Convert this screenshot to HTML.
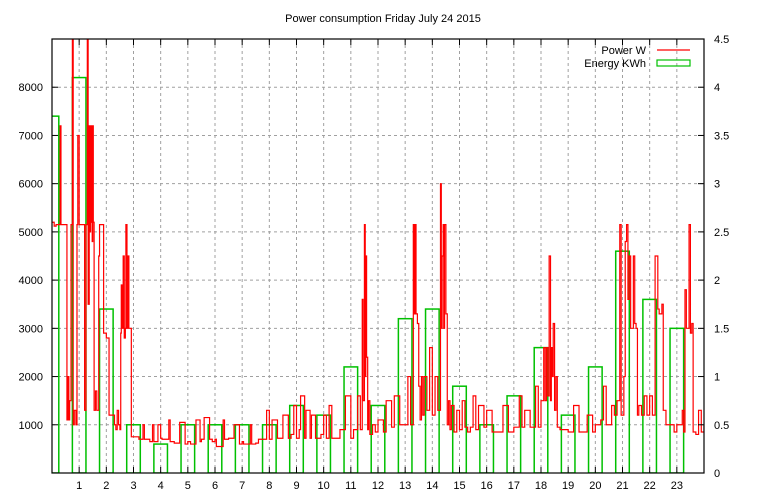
<!DOCTYPE html>
<html><head><meta charset="utf-8"><style>
html,body{margin:0;padding:0;background:#fff;}
svg{display:block;font-family:"Liberation Sans",sans-serif;}
text{font-size:11px;fill:#000;}
</style></head><body>
<svg id="chart" width="768" height="500" viewBox="0 0 768 500" xmlns="http://www.w3.org/2000/svg">
<defs><clipPath id="plotclip"><rect x="52" y="39" width="652" height="434"/></clipPath></defs>
<text x="383" y="22" text-anchor="middle">Power consumption Friday July 24 2015</text>
<g id="grid"></g>
<g id="energy" clip-path="url(#plotclip)"></g>
<g id="power" clip-path="url(#plotclip)"></g>
<g id="axes"></g>
<g>
<text x="646" y="54" text-anchor="end">Power W</text>
<line x1="657" y1="50" x2="690" y2="50" stroke="#ff0000" stroke-width="1.2"/>
<text x="646" y="67" text-anchor="end">Energy KWh</text>
<rect x="657" y="60" width="33" height="6" fill="none" stroke="#00c000" stroke-width="1.2"/>
</g>
</svg>
<script>
const hourTicks = [1,2,3,4,5,6,7,8,9,10,11,12,13,14,15,16,17,18,19,20,21,22,23];
const powerTicks = [1000,2000,3000,4000,5000,6000,7000,8000];
const energyTicks = [0,0.5,1,1.5,2,2.5,3,3.5,4,4.5];
const energyHours = [0,1,2,3,4,5,6,7,8,9,10,11,12,13,14,15,16,17,18,19,20,21,22,23];
const energyKWh = [3.7,4.1,1.7,0.5,0.3,0.5,0.5,0.5,0.5,0.7,0.6,1.1,0.7,1.6,1.7,0.9,0.5,0.8,1.3,0.6,1.1,2.3,1.8,1.5];
const powerData = [
[0,5200],[0.08,5120],[0.15,5150],[0.3,7200],[0.33,5150],[0.55,1100],[0.58,2000],[0.62,1100],[0.65,1500],[0.7,5150],
[0.75,9500],[0.78,1000],[0.82,1300],[0.88,1000],[0.92,5150],[0.95,7000],[1.0,5150],[1.2,1300],[1.25,5150],[1.3,9500],
[1.33,3500],[1.37,7200],[1.4,5000],[1.42,7200],[1.44,5200],[1.46,7200],[1.48,4800],[1.5,7200],[1.52,5200],[1.55,1300],
[1.6,1700],[1.65,1300],[1.72,4500],[1.75,5150],[1.9,2900],[2.0,2800],[2.1,1200],[2.3,1000],[2.35,900],[2.4,1300],
[2.45,1000],[2.5,900],[2.53,2900],[2.55,3900],[2.58,3000],[2.62,4500],[2.66,2800],[2.7,3000],[2.72,5150],[2.76,3000],
[2.8,4500],[2.83,3000],[2.92,750],[3.2,700],[3.35,1000],[3.4,700],[3.6,650],[3.7,1000],[3.75,650],[3.9,1000],
[4.0,720],[4.05,700],[4.3,1100],[4.35,650],[4.5,620],[4.7,1050],[4.9,600],[5.0,650],[5.1,600],[5.3,1100],
[5.45,650],[5.5,700],[5.6,1150],[5.8,700],[5.9,650],[6.0,700],[6.05,550],[6.3,1100],[6.35,700],[6.5,720],
[6.7,1000],[6.9,600],[7.0,650],[7.05,600],[7.3,1000],[7.35,600],[7.5,620],[7.6,700],[7.9,1300],[8.0,700],
[8.1,1100],[8.3,720],[8.5,1200],[8.7,720],[8.8,800],[8.9,1400],[9.0,720],[9.1,900],[9.15,1600],[9.3,720],
[9.35,1300],[9.5,720],[9.55,1200],[9.7,720],[9.9,800],[10.0,1200],[10.1,720],[10.2,1400],[10.3,720],[10.4,720],
[10.6,900],[10.8,1600],[11.0,720],[11.1,900],[11.25,1600],[11.35,900],[11.42,3600],[11.45,1500],[11.5,5150],[11.53,2000],
[11.55,4500],[11.58,2400],[11.62,900],[11.65,1500],[11.7,800],[11.8,1000],[11.9,850],[12.0,1100],[12.2,850],[12.3,1500],
[12.5,950],[12.6,1600],[12.8,1000],[13.0,1000],[13.1,2000],[13.2,1000],[13.3,5150],[13.33,3300],[13.36,5150],[13.4,3300],
[13.45,3100],[13.5,1800],[13.55,1100],[13.6,2000],[13.65,1200],[13.7,2000],[13.8,1300],[13.9,2600],[14.0,1200],[14.1,2000],
[14.2,1300],[14.3,6000],[14.33,3000],[14.36,4500],[14.4,5150],[14.42,3000],[14.45,5150],[14.5,3300],[14.55,1000],[14.6,1500],
[14.65,900],[14.7,1400],[14.8,850],[14.9,1300],[15.0,900],[15.1,1500],[15.2,950],[15.3,850],[15.4,950],[15.5,1600],
[15.6,900],[15.7,1400],[15.9,950],[16.0,1300],[16.2,850],[16.4,850],[16.6,1400],[16.8,850],[17.0,950],[17.2,1600],
[17.3,950],[17.4,1300],[17.6,950],[17.8,1800],[17.9,950],[18.0,1500],[18.1,2600],[18.15,1500],[18.2,2600],[18.25,1600],
[18.3,4500],[18.35,1500],[18.38,2600],[18.42,2000],[18.45,3100],[18.5,1300],[18.55,2000],[18.6,950],[18.7,900],[19.0,850],
[19.2,1400],[19.4,850],[19.5,850],[19.7,1200],[19.9,850],[20.0,1000],[20.2,1100],[20.3,1800],[20.4,1000],[20.6,1400],
[20.7,1200],[20.8,1500],[20.9,5150],[20.95,1200],[21.05,2000],[21.1,4800],[21.15,5150],[21.2,3600],[21.25,4500],[21.3,3000],
[21.4,4500],[21.45,3100],[21.5,3000],[21.55,1200],[21.6,1400],[21.7,1200],[21.8,1600],[21.9,1200],[22.0,1600],[22.1,1200],
[22.2,4500],[22.3,3400],[22.35,3300],[22.45,3500],[22.5,1300],[22.6,1000],[22.7,1000],[22.9,850],[23.0,1000],[23.2,1300],
[23.25,850],[23.3,3800],[23.35,3000],[23.45,5150],[23.5,2900],[23.55,3100],[23.6,850],[23.7,800],[23.8,1300],[23.9,850],[24,1000]
];
const L=52,R=704,T=39,B=473;
function xS(h){return L+(R-L)*h/24;}
function yP(w){return B-(B-T)*w/9000;}
function yE(e){return B-(B-T)*e/4.5;}
const NS='http://www.w3.org/2000/svg';
function mk(tag,attrs,parent){const e=document.createElementNS(NS,tag);for(const k in attrs)e.setAttribute(k,attrs[k]);parent.appendChild(e);return e;}
const grid=document.getElementById('grid'),axes=document.getElementById('axes');
hourTicks.forEach(h=>{
  const g=mk('line',{x1:xS(h),x2:xS(h),y1:T,y2:B,stroke:'#a0a0a0','stroke-dasharray':'3,3','stroke-width':1},grid);
  
  
  const t1=mk('line',{x1:xS(h),x2:xS(h),y1:B,y2:B-6,stroke:'#000'},axes);
  
  
  const t2=mk('line',{x1:xS(h),x2:xS(h),y1:T,y2:T+6,stroke:'#000'},axes);
  
  
  const lb=mk('text',{x:xS(h),y:B+16,'text-anchor':'middle'},axes);
  lb.textContent=h;
  
  
});
powerTicks.forEach(w=>{
  const g=mk('line',{x1:L,x2:R,y1:yP(w),y2:yP(w),stroke:'#a0a0a0','stroke-dasharray':'3,3','stroke-width':1},grid);
  
  
  const t=mk('line',{x1:L,x2:L+6,y1:yP(w),y2:yP(w),stroke:'#000'},axes);
  
  
  const lb=mk('text',{x:L-9,y:yP(w)+4,'text-anchor':'end'},axes);
  lb.textContent=w;
  
  
});
energyTicks.forEach(e=>{
  const t=mk('line',{x1:R-6,x2:R,y1:yE(e),y2:yE(e),stroke:'#000'},axes);
  
  
  const lb=mk('text',{x:R+10,y:yE(e)+4,'text-anchor':'start'},axes);
  lb.textContent=e;
  
  
});
const border=mk('rect',{x:L,y:T,width:R-L,height:B-T,fill:'none',stroke:'#000','stroke-width':1.2},axes);


const eg=document.getElementById('energy');
energyHours.forEach((h,i)=>{
  const x0=xS(h-0.25),x1=xS(h+0.25);
  const r=mk('rect',{x:x0,y:yE(energyKWh[i]),width:x1-x0,height:B-yE(energyKWh[i]),fill:'none',stroke:'#00c000','stroke-width':1.5},eg);
  
  
});
let d='';
powerData.forEach((p,i)=>{
  const x=xS(p[0]),y=yP(p[1]);
  if(i===0)d+='M'+x+','+y;
  else d+='H'+x+'V'+y;
});
const pl=mk('path',{d:d,fill:'none',stroke:'#ff0000','stroke-width':1.2},document.getElementById('power'));


</script>
</body></html>
